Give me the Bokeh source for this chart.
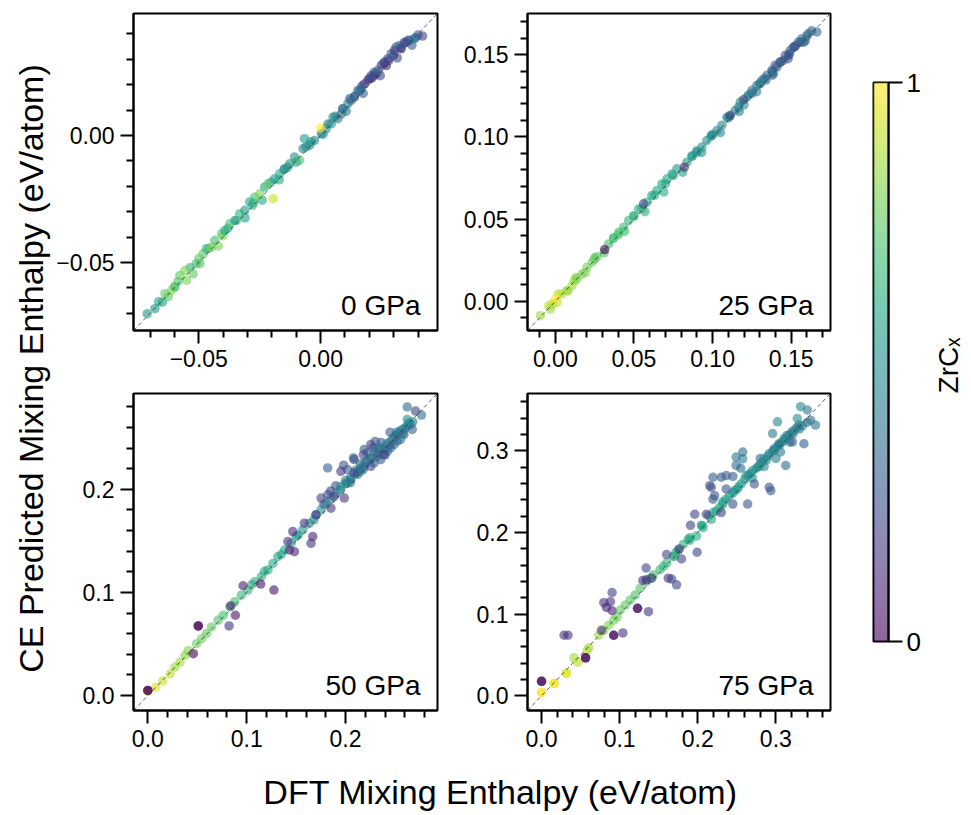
import numpy as np
from bokeh.plotting import figure
from bokeh.models import Range1d, FixedTicker, LinearColorMapper, ColumnDataSource, Label, Slope
from bokeh.layouts import row, column
from bokeh.palettes import Viridis256
from bokeh.transform import transform
from bokeh.embed import file_html
from bokeh.resources import INLINE

# ---------------- data (DFT vs CE mixing enthalpy, eV/atom; ZrCx composition) ----------------
# 0 GPa : dense band points, then individual points
band_dft_0 = [-0.0665, -0.0625, -0.0585, -0.055, -0.0535, -0.0495, -0.046, -0.042, -0.038, -0.0345,
              -0.031, -0.0275, -0.024, -0.0205, -0.017, -0.0135, -0.01, -0.004, 0.001, 0.006,
              0.0105, 0.014, 0.0175, 0.021, 0.0245, 0.028, 0.0315, 0.035, 0.0375, 0.040,
              0.012, 0.016, 0.02, 0.023, 0.026, 0.03, 0.033, 0.036, 0.039, 0.027,
              0.022, 0.017, 0.009, 0.003, -0.006, -0.015, -0.028, -0.04, -0.05, -0.06]
band_ce_0 = [-0.0655, -0.0635, -0.0575, -0.057, -0.052, -0.0505, -0.0445, -0.0435, -0.0365, -0.0335,
             -0.0325, -0.0265, -0.0255, -0.0185, -0.0175, -0.0125, -0.0105, -0.0025, 0.0005, 0.0075,
             0.0095, 0.0155, 0.0165, 0.0225, 0.0235, 0.0295, 0.0305, 0.0365, 0.0355, 0.0395,
             0.0145, 0.0175, 0.0225, 0.0245, 0.0285, 0.0315, 0.0345, 0.0375, 0.0385, 0.0275,
             0.0235, 0.0195, 0.0105, 0.0045, -0.0045, -0.0135, -0.0275, -0.0395, -0.0485, -0.0595]
band_zr_0 = [0.6, 0.75, 0.7, 0.8, 0.65, 0.75, 0.7, 0.8, 0.6, 0.7,
             0.55, 0.65, 0.6, 0.5, 0.6, 0.5, 0.55, 0.5, 0.45, 0.45,
             0.4, 0.35, 0.3, 0.25, 0.2, 0.2, 0.25, 0.15, 0.3, 0.25,
             0.25, 0.2, 0.15, 0.2, 0.15, 0.2, 0.25, 0.2, 0.3, 0.1,
             0.15, 0.2, 0.3, 0.4, 0.5, 0.55, 0.65, 0.8, 0.75, 0.8]
dft_0 = [-0.0712, -0.068, -0.0649, -0.0639, -0.0612, -0.0598, -0.0578, -0.0557, -0.0523, -0.051,
         -0.0482, -0.0469, -0.0448, -0.0434, -0.0407, -0.0393, -0.0373, -0.0352, -0.0332, -0.0311,
         -0.0291, -0.027, -0.025, -0.023, -0.0216, -0.0189, -0.0168, -0.0148, -0.0127, -0.0107,
         -0.0086, -0.0066, -0.0072, -0.0045, -0.0025, 0.0003, 0.0023, 0.0044, 0.0051, 0.0071,
         0.0085, 0.0092, 0.0112, 0.0126, 0.0139, 0.0153, 0.0167, 0.018, 0.0194, 0.0208,
         0.0221, 0.0235, 0.0249, 0.0262, 0.0276, 0.029, 0.0303, 0.031, 0.0324, 0.0331,
         0.0344, 0.0365, 0.0385, 0.0419, -0.0195, 0.0]
ce_0 = [-0.0702, -0.0682, -0.0656, -0.0623, -0.061, -0.0597, -0.0551, -0.0531, -0.0545, -0.0505,
        -0.0466, -0.0446, -0.044, -0.0413, -0.0387, -0.0374, -0.0348, -0.0335, -0.0308, -0.0295,
        -0.0262, -0.0243, -0.023, -0.0203, -0.019, -0.0171, -0.0151, -0.0131, -0.0112, -0.0085,
        -0.0098, -0.0013, -0.0052, -0.0039, -0.002, 0.0007, 0.0026, 0.0046, 0.0072, 0.0066,
        0.0085, 0.0105, 0.0125, 0.0138, 0.0151, 0.0177, 0.0184, 0.0203, 0.0217, 0.0236,
        0.0249, 0.0256, 0.0276, 0.0289, 0.0302, 0.0322, 0.0335, 0.0348, 0.0354, 0.0341,
        0.0367, 0.0374, 0.0381, 0.0391, -0.0249, 0.0029]
zr_0 = [0.55, 0.55, 0.6, 0.75, 0.8, 0.7, 0.75, 0.8, 0.75, 0.7,
        0.75, 0.65, 0.8, 0.7, 0.75, 0.6, 0.7, 0.55, 0.65, 0.55,
        0.6, 0.7, 0.8, 0.6, 0.75, 0.55, 0.6, 0.5, 0.55, 0.5,
        0.7, 0.55, 0.45, 0.5, 0.45, 0.45, 0.45, 0.5, 0.5, 0.4,
        0.35, 0.45, 0.4, 0.35, 0.3, 0.35, 0.4, 0.2, 0.15, 0.3,
        0.2, 0.35, 0.15, 0.25, 0.2, 0.3, 0.15, 0.25, 0.35, 0.2,
        0.2, 0.3, 0.4, 0.2, 0.92, 1.0]

# 25 GPa
band_dft_25 = [0.002, 0.008, 0.013, 0.019, 0.025, 0.031, 0.037, 0.044, 0.05, 0.057,
               0.063, 0.069, 0.075, 0.081, 0.087, 0.093, 0.099, 0.105, 0.111, 0.117,
               0.123, 0.128, 0.133, 0.138, 0.143, 0.148, 0.153, 0.158, 0.163, 0.159,
               0.12, 0.125, 0.13, 0.134, 0.138, 0.141, 0.145, 0.149, 0.152, 0.156,
               0.16, 0.11, 0.1, 0.09, 0.07, 0.055, 0.04, 0.025, 0.012, -0.002]
band_ce_25 = [0.0045, 0.0065, 0.0145, 0.0175, 0.0265, 0.0295, 0.0385, 0.0425, 0.0515, 0.0545,
              0.0645, 0.0665, 0.0765, 0.0785, 0.0885, 0.0905, 0.1005, 0.1025, 0.1125, 0.1155,
              0.1255, 0.1275, 0.1355, 0.1375, 0.1455, 0.1475, 0.1555, 0.1575, 0.1645, 0.1585,
              0.1195, 0.1265, 0.1325, 0.1345, 0.1395, 0.1425, 0.1465, 0.1505, 0.1545, 0.1575,
              0.1615, 0.1115, 0.1015, 0.0915, 0.0715, 0.0565, 0.0405, 0.0255, 0.0125, -0.0015]
band_zr_25 = [0.85, 0.85, 0.8, 0.8, 0.75, 0.72, 0.7, 0.68, 0.65, 0.62,
              0.6, 0.6, 0.58, 0.55, 0.55, 0.5, 0.5, 0.48, 0.45, 0.45,
              0.4, 0.4, 0.35, 0.3, 0.3, 0.25, 0.3, 0.35, 0.35, 0.3,
              0.45, 0.35, 0.3, 0.35, 0.25, 0.3, 0.25, 0.3, 0.25, 0.3,
              0.35, 0.45, 0.5, 0.52, 0.6, 0.65, 0.7, 0.78, 0.85, 0.9]
dft_25 = [-0.0095, -0.0042, -0.0032, 0.0011, 0.0042, 0.0074, 0.0106, 0.0138, 0.0169, 0.0201,
          0.0233, 0.0265, 0.0339, 0.0371, 0.0403, 0.0434, 0.0466, 0.0498, 0.053, 0.0583,
          0.0614, 0.0646, 0.0678, 0.071, 0.0742, 0.0773, 0.0837, 0.0869, 0.09, 0.0932,
          0.0964, 0.0996, 0.1028, 0.1059, 0.1091, 0.1144, 0.1165, 0.1218, 0.125, 0.1282,
          0.1314, 0.1345, 0.1377, 0.1398, 0.143, 0.1462, 0.1494, 0.1515, 0.1547, 0.1568,
          0.161, 0.1663, 0.1303, 0.1388, 0.1483, 0.1176, 0.0561, 0.1112, 0.1197, 0.0314,
          0.082, 0.0]
ce_25 = [-0.0087, -0.0026, -0.0047, -0.0006, 0.0045, 0.0065, 0.0095, 0.0136, 0.0166, 0.0207,
         0.0237, 0.0272, 0.0349, 0.0386, 0.042, 0.0451, 0.0491, 0.0522, 0.0562, 0.0603,
         0.0643, 0.0674, 0.0714, 0.0745, 0.0775, 0.0806, 0.0846, 0.0881, 0.0907, 0.0938,
         0.0978, 0.1009, 0.1039, 0.107, 0.112, 0.1161, 0.1181, 0.1242, 0.1283, 0.1313,
         0.1344, 0.1374, 0.1404, 0.1435, 0.1455, 0.1496, 0.1526, 0.1547, 0.1577, 0.1597,
         0.1628, 0.1638, 0.1323, 0.1384, 0.1496, 0.1212, 0.0593, 0.1131, 0.1226, 0.0315,
         0.0816, 0.0018]
zr_25 = [0.85, 0.9, 0.85, 0.9, 0.9, 0.85, 0.85, 0.8, 0.8, 0.8,
         0.78, 0.75, 0.7, 0.7, 0.7, 0.68, 0.65, 0.65, 0.62, 0.6,
         0.6, 0.6, 0.6, 0.58, 0.58, 0.55, 0.55, 0.55, 0.5, 0.52,
         0.5, 0.5, 0.48, 0.45, 0.5, 0.45, 0.4, 0.45, 0.4, 0.35,
         0.4, 0.35, 0.3, 0.25, 0.3, 0.25, 0.3, 0.25, 0.3, 0.35,
         0.35, 0.35, 0.45, 0.4, 0.25, 0.45, 0.2, 0.2, 0.2, 0.0,
         0.1, 1.0]

# 50 GPa
band_dft_50 = [0.105, 0.118, 0.135, 0.152, 0.168, 0.185, 0.195, 0.205, 0.212, 0.218,
               0.225, 0.232, 0.238, 0.242, 0.248, 0.252, 0.258, 0.264, 0.268, 0.228,
               0.215, 0.24, 0.2, 0.222, 0.236,
               0.2, 0.205, 0.21, 0.215, 0.22, 0.226, 0.23, 0.234, 0.244, 0.25,
               0.255, 0.26, 0.198, 0.208, 0.218, 0.23, 0.245, 0.19, 0.185, 0.178]
band_ce_50 = [0.1075, 0.1205, 0.137, 0.1555, 0.1705, 0.1905, 0.1995, 0.2115, 0.2165, 0.2195,
              0.2305, 0.2345, 0.2385, 0.2445, 0.2495, 0.2555, 0.2545, 0.2645, 0.2655, 0.2405,
              0.2245, 0.2335, 0.2085, 0.2355, 0.2455,
              0.2055, 0.2065, 0.2185, 0.2205, 0.2265, 0.2295, 0.2365, 0.2395, 0.2425, 0.2515,
              0.2565, 0.2595, 0.2235, 0.2305, 0.2335, 0.2465, 0.2555, 0.2035, 0.1985, 0.1855]
band_zr_50 = [0.62, 0.6, 0.58, 0.55, 0.5, 0.45, 0.45, 0.42, 0.4, 0.42,
              0.38, 0.35, 0.35, 0.38, 0.35, 0.4, 0.35, 0.4, 0.42, 0.3,
              0.35, 0.3, 0.4, 0.3, 0.3,
              0.45, 0.4, 0.42, 0.38, 0.35, 0.4, 0.35, 0.3, 0.35, 0.38,
              0.35, 0.4, 0.25, 0.3, 0.2, 0.3, 0.3, 0.25, 0.2, 0.2]
dft_50 = [0.0, 0.008, 0.0151, 0.0225, 0.0275, 0.0326, 0.0376, 0.0409, 0.0493, 0.0544,
          0.0594, 0.0644, 0.0711, 0.0762, 0.0829, 0.0879, 0.0946, 0.1013, 0.1081, 0.1148,
          0.1215, 0.1265, 0.1315, 0.1383, 0.145, 0.15, 0.1567, 0.1634, 0.1701, 0.1752,
          0.1802, 0.1903, 0.1953, 0.202, 0.2054, 0.2121, 0.2154, 0.2188, 0.2221, 0.2322,
          0.2356, 0.2423, 0.2456, 0.249, 0.2523, 0.2557, 0.2574, 0.2591, 0.2624, 0.2658,
          0.2624, 0.2674, 0.2624, 0.2708, 0.2768, 0.1819, 0.202, 0.1953, 0.2087, 0.2087,
          0.2188, 0.2255, 0.2255, 0.2289, 0.2356, 0.2389, 0.2456, 0.2523, 0.1752, 0.1819,
          0.1886, 0.1852, 0.1987, 0.1701, 0.1651, 0.1668, 0.1584, 0.1466, 0.1483, 0.1433,
          0.1416, 0.0822, 0.0839, 0.0886, 0.0963, 0.1141, 0.1275, 0.046, 0.051, 0.051,
          0.0, 0.0]
ce_50 = [0.004, 0.0081, 0.014, 0.0211, 0.0276, 0.0325, 0.039, 0.0438, 0.0503, 0.0552,
         0.0601, 0.0666, 0.0731, 0.0779, 0.086, 0.0909, 0.0974, 0.1023, 0.1104, 0.1153,
         0.1218, 0.1282, 0.1347, 0.1412, 0.1477, 0.1542, 0.1607, 0.1672, 0.1753, 0.1802,
         0.1867, 0.1964, 0.2029, 0.2062, 0.2094, 0.2143, 0.2175, 0.2224, 0.2273, 0.2321,
         0.2403, 0.237, 0.2468, 0.2435, 0.2532, 0.2484, 0.2581, 0.2532, 0.2614, 0.263,
         0.2679, 0.2581, 0.2799, 0.276, 0.2721, 0.2208, 0.2192, 0.2175, 0.2159, 0.2289,
         0.2386, 0.2435, 0.2224, 0.2256, 0.2289, 0.2338, 0.2403, 0.2468, 0.1916, 0.1948,
         0.1932, 0.1818, 0.1916, 0.1753, 0.1477, 0.1542, 0.1672, 0.1591, 0.1396, 0.1412,
         0.1494, 0.0675, 0.087, 0.0779, 0.1065, 0.1081, 0.1023, 0.0406, 0.0675, 0.0675,
         0.005, 0.005]
zr_50 = [1.0, 0.95, 0.92, 0.9, 0.85, 0.85, 0.82, 0.82, 0.78, 0.78,
         0.75, 0.75, 0.72, 0.7, 0.7, 0.68, 0.66, 0.65, 0.62, 0.62,
         0.6, 0.6, 0.58, 0.58, 0.56, 0.55, 0.55, 0.5, 0.5, 0.5,
         0.45, 0.45, 0.45, 0.42, 0.4, 0.45, 0.4, 0.35, 0.4, 0.35,
         0.4, 0.35, 0.45, 0.35, 0.42, 0.4, 0.45, 0.35, 0.4, 0.45,
         0.5, 0.3, 0.35, 0.2, 0.35, 0.3, 0.3, 0.15, 0.2, 0.25,
         0.25, 0.2, 0.2, 0.3, 0.3, 0.2, 0.3, 0.3, 0.2, 0.25,
         0.2, 0.15, 0.15, 0.15, 0.15, 0.1, 0.15, 0.1, 0.1, 0.1,
         0.15, 0.15, 0.1, 0.05, 0.1, 0.05, 0.05, 0.0, 0.0, 0.0,
         0.0, 0.0]

# 75 GPa
band_dft_75 = [0.14, 0.156, 0.172, 0.19, 0.205, 0.214, 0.228, 0.236, 0.245, 0.252,
               0.265, 0.275, 0.282, 0.29, 0.296, 0.302, 0.308, 0.314, 0.32, 0.327,
               0.334, 0.306, 0.285, 0.27, 0.318,
               0.22, 0.232, 0.25, 0.26, 0.268, 0.278, 0.288, 0.298, 0.305, 0.312,
               0.322, 0.33, 0.34, 0.28, 0.3, 0.255, 0.245, 0.205, 0.19, 0.17]
band_ce_75 = [0.1445, 0.1585, 0.1755, 0.1935, 0.2085, 0.2205, 0.2305, 0.2405, 0.2485, 0.2555,
              0.2705, 0.2785, 0.2855, 0.2935, 0.2995, 0.3055, 0.3105, 0.3185, 0.3225, 0.3285,
              0.3305, 0.2985, 0.2805, 0.2665, 0.3105,
              0.2245, 0.2375, 0.2525, 0.2645, 0.2725, 0.2805, 0.2885, 0.3005, 0.3075, 0.3135,
              0.3205, 0.3265, 0.3345, 0.2905, 0.2905, 0.2785, 0.2685, 0.2085, 0.1905, 0.1705]
band_zr_75 = [0.7, 0.66, 0.64, 0.62, 0.6, 0.58, 0.57, 0.55, 0.55, 0.52,
              0.5, 0.5, 0.48, 0.45, 0.45, 0.42, 0.45, 0.4, 0.42, 0.4,
              0.42, 0.4, 0.45, 0.5, 0.38,
              0.58, 0.56, 0.52, 0.5, 0.5, 0.48, 0.45, 0.45, 0.42, 0.45,
              0.4, 0.42, 0.4, 0.35, 0.4, 0.35, 0.3, 0.6, 0.62, 0.65]
dft_75 = [0.0, 0.0, 0.0161, 0.0161, 0.0318, 0.0318, 0.0415, 0.0466, 0.0585, 0.0606,
          0.0733, 0.0797, 0.086, 0.0924, 0.0966, 0.1008, 0.1072, 0.1136, 0.1199, 0.1263,
          0.1347, 0.1432, 0.1517, 0.1602, 0.1686, 0.175, 0.1814, 0.1877, 0.1983, 0.2068,
          0.2174, 0.2237, 0.2322, 0.2407, 0.247, 0.2555, 0.2619, 0.2703, 0.2788, 0.2852,
          0.2915, 0.2979, 0.3042, 0.3106, 0.317, 0.3233, 0.3297, 0.3275, 0.0288, 0.0339,
          0.0767, 0.1042, 0.0797, 0.0881, 0.0903, 0.1369, 0.1297, 0.1339, 0.1339, 0.1411,
          0.1623, 0.1665, 0.1729, 0.1602, 0.1763, 0.1792, 0.1907, 0.1992, 0.1962, 0.211,
          0.2301, 0.2449, 0.2364, 0.2216, 0.2153, 0.2195, 0.2301, 0.2364, 0.2639, 0.2725,
          0.2492, 0.2492, 0.2576, 0.2915, 0.2936, 0.3127, 0.3021, 0.2958, 0.3318, 0.3403,
          0.3445, 0.3508, 0.336, 0.3212, 0.2576, 0.2174, 0.2195, 0.0564, 0.0564, 0.0924,
          0.0924, 0.0831, 0.0903, 0.1229, 0.1229, 0.0, 0.0]
ce_75 = [0.0041, 0.0041, 0.0152, 0.0152, 0.0276, 0.0276, 0.0465, 0.0412, 0.0556, 0.0588,
         0.0741, 0.0802, 0.0864, 0.0926, 0.0967, 0.1049, 0.1111, 0.1173, 0.1235, 0.1317,
         0.1399, 0.1481, 0.1543, 0.1626, 0.1708, 0.178, 0.1852, 0.1914, 0.1955, 0.2058,
         0.216, 0.2263, 0.2346, 0.2449, 0.251, 0.2593, 0.2695, 0.2757, 0.2819, 0.2901,
         0.2963, 0.3025, 0.3086, 0.3148, 0.3189, 0.3251, 0.3313, 0.3395, 0.0741, 0.0741,
         0.0802, 0.077, 0.114, 0.1152, 0.1263, 0.1029, 0.1412, 0.142, 0.1564, 0.144,
         0.144, 0.1428, 0.1358, 0.1728, 0.1798, 0.1675, 0.2086, 0.1757, 0.2222, 0.2222,
         0.2243, 0.2346, 0.2531, 0.2449, 0.2572, 0.2675, 0.2675, 0.2695, 0.2346, 0.2593,
         0.2819, 0.2922, 0.2901, 0.2551, 0.251, 0.2819, 0.3354, 0.321, 0.3539, 0.3498,
         0.3374, 0.3313, 0.3086, 0.3107, 0.2984, 0.2551, 0.2407, 0.0465, 0.0465, 0.0741,
         0.0741, 0.1082, 0.1041, 0.107, 0.107, 0.0177, 0.0177]
zr_75 = [1.0, 1.0, 0.97, 0.97, 0.95, 0.95, 0.85, 0.9, 0.88, 0.87,
         0.85, 0.82, 0.8, 0.78, 0.78, 0.76, 0.75, 0.74, 0.72, 0.72,
         0.7, 0.7, 0.68, 0.66, 0.65, 0.64, 0.63, 0.62, 0.6, 0.6,
         0.58, 0.58, 0.57, 0.56, 0.55, 0.55, 0.5, 0.5, 0.5, 0.5,
         0.45, 0.45, 0.4, 0.45, 0.4, 0.45, 0.4, 0.5, 0.15, 0.15,
         0.15, 0.15, 0.15, 0.15, 0.2, 0.15, 0.15, 0.15, 0.2, 0.15,
         0.15, 0.2, 0.2, 0.2, 0.15, 0.2, 0.2, 0.2, 0.2, 0.15,
         0.2, 0.25, 0.25, 0.25, 0.25, 0.3, 0.25, 0.3, 0.25, 0.25,
         0.35, 0.4, 0.45, 0.25, 0.3, 0.35, 0.45, 0.4, 0.45, 0.4,
         0.35, 0.4, 0.3, 0.3, 0.35, 0.25, 0.25, 0.0, 0.0, 0.05,
         0.05, 0.1, 0.1, 0.05, 0.05, 0.0, 0.0]

# ---------------- axes: ranges, ticks and tick labels ----------------
range_0 = (-0.0768, 0.048)
major_0 = [-0.05, 0.0]
labels_0 = ["\u22120.05", "0.00"]
minor_0 = [-0.07, -0.06, -0.04, -0.03, -0.02, -0.01, 0.01, 0.02, 0.03, 0.04]

range_25 = (-0.0177, 0.175)
major_25 = [0.0, 0.05, 0.10, 0.15]
labels_25 = ["0.00", "0.05", "0.10", "0.15"]
minor_25 = [-0.01, 0.01, 0.02, 0.03, 0.04, 0.06, 0.07, 0.08, 0.09,
            0.11, 0.12, 0.13, 0.14, 0.16, 0.17]

range_50 = (-0.0145, 0.293)
major_50 = [0.0, 0.1, 0.2]
labels_50 = ["0.0", "0.1", "0.2"]
minor_50 = [0.02, 0.04, 0.06, 0.08, 0.12, 0.14, 0.16, 0.18, 0.22, 0.24, 0.26, 0.28]

range_75 = (-0.018, 0.370)
major_75 = [0.0, 0.1, 0.2, 0.3]
labels_75 = ["0.0", "0.1", "0.2", "0.3"]
minor_75 = [0.02, 0.04, 0.06, 0.08, 0.12, 0.14, 0.16, 0.18, 0.22, 0.24, 0.26, 0.28,
            0.32, 0.34, 0.36]

pressures = ["0 GPa", "25 GPa", "50 GPa", "75 GPa"]
cbar_ticks = [0, 1]
cbar_labels = ["0", "1"]

FONT = "Liberation Sans"
mapper = LinearColorMapper(palette=Viridis256, low=0, high=1)


def style_axis(ax, major, minor, labels, size="23px", tick_out=13):
    ax.ticker = FixedTicker(ticks=major, minor_ticks=minor)
    ax.major_label_overrides = {t: l for t, l in zip(major, labels)}
    ax.major_tick_in = 0
    ax.major_tick_out = tick_out
    ax.minor_tick_in = 0
    ax.minor_tick_out = 7
    ax.major_tick_line_width = 2
    ax.minor_tick_line_width = 2
    ax.major_tick_line_color = "black"
    ax.minor_tick_line_color = "black"
    ax.axis_line_width = 2
    ax.axis_line_color = "black"
    ax.major_label_text_font = FONT
    ax.major_label_text_font_size = size
    ax.major_label_text_color = "black"
    ax.major_label_standoff = 6


def panel(xs, ys, cs, rng, major, minor, labels, tag, fw, fh, bl, br, bt, bb):
    lo, hi = rng
    p = figure(width=bl + fw + br, height=bt + fh + bb,
               x_range=Range1d(lo, hi), y_range=Range1d(lo, hi),
               output_backend="svg", toolbar_location=None,
               min_border_left=bl, min_border_right=br,
               min_border_top=bt, min_border_bottom=bb)
    p.grid.visible = False
    p.outline_line_color = "black"
    p.outline_line_width = 2
    p.outline_line_alpha = 1
    p.background_fill_color = "white"
    p.border_fill_color = "white"
    style_axis(p.xaxis[0], major, minor, labels)
    style_axis(p.yaxis[0], major, minor, labels)
    src = ColumnDataSource(dict(x=xs, y=ys, c=cs))
    p.scatter("x", "y", source=src, size=9.5,
              fill_color=transform("c", mapper), fill_alpha=0.6, line_color=None)
    p.add_layout(Slope(gradient=1, y_intercept=0, line_color="#333333",
                       line_width=0.8, line_dash="4 3"))
    span = hi - lo
    p.add_layout(Label(x=hi - 17 * span / fw, y=lo + 25 * span / fh, text=tag,
                       text_align="right", text_baseline="alphabetic",
                       text_font=FONT, text_font_size="28px", text_color="black"))
    return p


def text_fig(w, h):
    p = figure(width=w, height=h, x_range=Range1d(0, w), y_range=Range1d(0, h),
               output_backend="svg", toolbar_location=None, min_border=0,
               x_axis_location=None, y_axis_location=None)
    p.grid.visible = False
    p.outline_line_color = None
    p.background_fill_color = "white"
    p.border_fill_color = "white"
    return p


p0 = panel(band_dft_0 + dft_0, band_ce_0 + ce_0, band_zr_0 + zr_0, range_0, major_0, minor_0,
           labels_0, pressures[0], 304, 317, 80, 18, 13, 48)
p25 = panel(band_dft_25 + dft_25, band_ce_25 + ce_25, band_zr_25 + zr_25, range_25, major_25,
            minor_25, labels_25, pressures[1], 303, 317, 72, 10, 13, 48)
p50 = panel(band_dft_50 + dft_50, band_ce_50 + ce_50, band_zr_50 + zr_50, range_50, major_50,
            minor_50, labels_50, pressures[2], 304, 317, 80, 18, 15, 48)
p75 = panel(band_dft_75 + dft_75, band_ce_75 + ce_75, band_zr_75 + zr_75, range_75, major_75,
            minor_75, labels_75, pressures[3], 303, 317, 72, 10, 15, 48)

# colour bar
cb = figure(width=88, height=758, x_range=Range1d(0, 1), y_range=Range1d(0, 1),
            output_backend="svg", toolbar_location=None,
            x_axis_location=None, y_axis_location="right",
            min_border_left=33, min_border_right=40, min_border_top=82, min_border_bottom=117)
cb.grid.visible = False
cb.outline_line_color = "black"
cb.outline_line_width = 2
cb.image(image=[np.linspace(0, 1, 256).reshape(-1, 1)], x=0, y=0, dw=1, dh=1,
         color_mapper=mapper, global_alpha=0.6)
style_axis(cb.yaxis[0], cbar_ticks, [], cbar_labels, size="26px", tick_out=14)
cb.yaxis[0].major_label_standoff = 4

zl = text_fig(40, 758)
zl.add_layout(Label(x=20, y=393, text="ZrC\u2093", angle=np.pi / 2, text_align="center",
                    text_baseline="middle", text_font=FONT, text_font_size="28px",
                    text_color="black"))

yl = text_fig(53, 758)
yl.add_layout(Label(x=30, y=390, text="CE Predicted Mixing Enthalpy (eV/atom)",
                    angle=np.pi / 2, text_align="center", text_baseline="middle",
                    text_font=FONT, text_font_size="34px", text_color="black"))

xl = text_fig(968, 57)
xl.add_layout(Label(x=500, y=24, text="DFT Mixing Enthalpy (eV/atom)",
                    text_align="center", text_baseline="alphabetic",
                    text_font=FONT, text_font_size="34px", text_color="black"))

grid = column(row(p0, p25), row(p50, p75))
layout = column(row(column(yl), grid, column(cb), column(zl)), column(xl))

open("out.html", "w").write(file_html(layout, INLINE))
